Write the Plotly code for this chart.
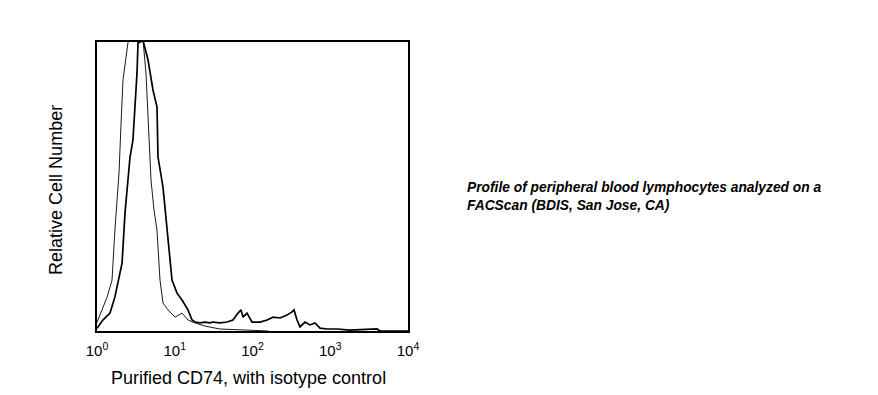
import plotly.graph_objects as go

# Fluorescence intensity (log scale) and relative cell counts
isotype_x = [1.0, 1.03, 1.16, 1.35, 1.56, 1.70, 1.86, 1.92, 2.04, 2.16, 2.50, 2.90, 3.57, 3.9,
             4.27, 4.53, 4.95, 5.41, 5.91, 6.46, 7.06, 8.19, 10.1, 12.4, 14.8, 18.2, 24.5,
             38.0, 93.0, 160.0]
isotype_y = [3.0, 3.8, 7.3, 11.8, 17.6, 34.9, 52.2, 54.7, 72.0, 86.9, 99.7, 105.0, 104.0, 101.0,
             89.0, 72.0, 52.2, 41.9, 34.9, 17.6, 9.7, 7.3, 4.8, 6.2, 3.8, 2.8, 1.7,
             0.7, 0.3, 0.0]

cd74_x = [1.0, 1.03, 1.19, 1.47, 1.70, 2.10, 2.29, 2.50, 2.66, 2.90, 3.27, 3.37, 3.91,
          4.53, 5.25, 5.91, 6.09, 7.06, 7.95, 9.22, 10.7, 12.4, 14.8, 16.7, 18.2, 21.1,
          24.5, 28.4, 31.0, 38.2, 47.0, 56.1, 65.1, 71.2, 75.5, 85.0, 98.6, 125, 154, 184,
          226, 278, 322, 342, 374, 408, 473, 549, 637, 738, 908, 1222, 1795, 3990, 4364, 10000]
cd74_y = [1.0, 1.4, 3.8, 6.2, 11.8, 23.5, 40.8, 52.2, 60.2, 66.1, 89.3, 99.7, 100.5,
          93.8, 83.4, 77.5, 60.2, 49.8, 34.9, 17.6, 13.1, 10.7, 7.3, 3.8, 3.1, 2.8,
          3.1, 2.8, 3.1, 2.8, 3.1, 3.8, 6.2, 7.3, 4.8, 6.2, 3.1, 3.1, 3.8, 4.8,
          4.5, 5.5, 6.6, 7.3, 3.8, 1.4, 3.1, 2.1, 2.8, 1.0, 0.7, 0.7, 0.3, 0.7, 0.0, 0.0]

tick_vals = [1, 10, 100, 1000, 10000]
tick_text = ["10<sup>0</sup>", "10<sup>1</sup>", "10<sup>2</sup>", "10<sup>3</sup>", "10<sup>4</sup>"]

fig = go.Figure()
fig.add_trace(go.Scatter(x=isotype_x, y=isotype_y, mode="lines",
                         line=dict(color="#1a1a1a", width=1), showlegend=False))
fig.add_trace(go.Scatter(x=cd74_x, y=cd74_y, mode="lines",
                         line=dict(color="#000000", width=1.7), showlegend=False))

font = "Liberation Sans, Arial, sans-serif"
fig.update_layout(
    width=862, height=383,
    margin=dict(l=89, r=462, t=34, b=60),
    paper_bgcolor="white", plot_bgcolor="white",
    xaxis=dict(type="log", range=[0, 4], tickvals=tick_vals, ticktext=tick_text,
               showgrid=False, zeroline=False, showline=True, mirror=True,
               linecolor="black", linewidth=2, ticks="", ticklabelstandoff=5,
               tickfont=dict(family=font, size=15, color="black")),
    yaxis=dict(range=[0, 100], showticklabels=False, showgrid=False, zeroline=False,
               showline=True, mirror=True, linecolor="black", linewidth=2, ticks=""),
    annotations=[
        dict(text="Purified CD74, with isotype control", xref="paper", yref="paper",
             x=0.486, y=-0.163, xanchor="center", yanchor="middle", showarrow=False,
             font=dict(family=font, size=18, color="black")),
        dict(text="Relative Cell Number", xref="paper", yref="paper",
             x=-0.132, y=0.488, xanchor="center", yanchor="middle", textangle=-90, showarrow=False,
             font=dict(family=font, size=18, color="black")),
        dict(text="<b><i>Profile of peripheral blood lymphocytes analyzed on a<br>FACScan (BDIS, San Jose, CA)</i></b>",
             xref="paper", yref="paper", x=1.183, y=0.467, xanchor="left", yanchor="middle",
             align="left", showarrow=False,
             font=dict(family=font, size=13.8, color="black")),
    ],
)

fig.write_html("out.html")
